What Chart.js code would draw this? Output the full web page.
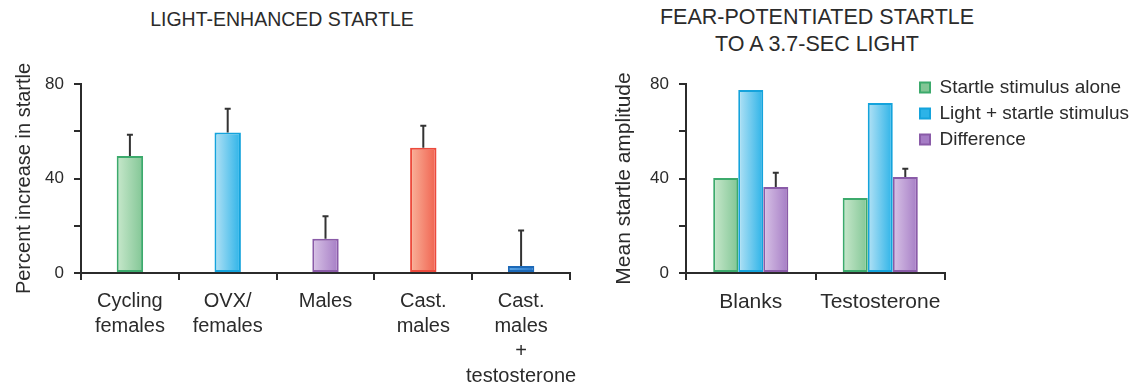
<!DOCTYPE html>
<html>
<head>
<meta charset="utf-8">
<script src="https://cdn.jsdelivr.net/npm/chart.js@4.4.1/dist/chart.umd.min.js"></script>
<style>
  body { margin: 0; width: 1143px; height: 392px; position: relative; overflow: hidden; background: #fff;
         font-family: "Liberation Sans", Arial, sans-serif; color: #2b2b2b; }
  canvas { position: absolute; top: 0; }
  .titulo { position: absolute; text-align: center; white-space: nowrap; }
  #t-izq { left: 82px; width: 400px; top: 7px; font-size: 19.5px; line-height: 24px; }
  #t-der { left: 617px; width: 400px; top: 4px; font-size: 21.5px; line-height: 27px; }
</style>
</head>
<body>
<div class="titulo" id="t-izq">LIGHT-ENHANCED STARTLE</div>
<div class="titulo" id="t-der">FEAR-POTENTIATED STARTLE<br>TO A 3.7-SEC LIGHT</div>
<canvas id="chart-izq" width="600" height="392" style="left:0"></canvas>
<canvas id="chart-der" width="543" height="392" style="left:600px"></canvas>
<script>
// valores leídos a ojo de la figura
const LEFT_GROUPS = [['Cycling', 'females'], ['OVX/', 'females'], ['Males'], ['Cast.', 'males'], ['Cast.', 'males', '+', 'testosterone']];
const LEFT_VALUES = [49.5, 59.5, 14.5, 53, 3];
const LEFT_ERRORS = [9, 10, 9.5, 9.3, 15];
const LEFT_SWATCHES = ['green', 'blue', 'purple', 'red', 'navy'];

const RIGHT_GROUPS = ['Blanks', 'Testosterone'];
const SERIES_NAMES = ['Startle stimulus alone', 'Light + startle stimulus', 'Difference'];
const ALONE = [40.2, 31.7];
const LIGHT = [77.5, 72];
const DIFFERENCE = [36.4, 40.6];
const DIFFERENCE_ERR = [6, 3.5];

const Y_LABELED = [0, 40, 80];

const INK = '#2b2b2b';
const SWATCH = {
  green:  { light: '#c8e8cc', dark: '#82c695', mid: '#a2d7b0', border: '#3caa6c' },
  blue:   { light: '#b4e2f5', dark: '#2cb3e8', mid: '#6cc8ee', border: '#14a3dc' },
  purple: { light: '#d8c3e6', dark: '#a57cc5', mid: '#bb9bd4', border: '#8a5ba8' },
  red:    { light: '#f9b39b', dark: '#f0614e', mid: '#f4866e', border: '#ec4a3c' },
  navy:   { light: '#5ea7e6', dark: '#2878ca', mid: '#3f8fd8', border: '#1c69b8' },
};

Chart.defaults.font.family = '"Liberation Sans", Arial, sans-serif';
Chart.defaults.color = INK;

// degradado horizontal dentro de cada barra (en la primera pasada aún no hay x)
function barGradient(pick) {
  return (ctx) => {
    const sw = SWATCH[pick(ctx)];
    const el = ctx.element;
    if (!el || !Number.isFinite(el.x) || !el.width) return sw.mid;
    const g = ctx.chart.ctx.createLinearGradient(el.x - el.width / 2, 0, el.x + el.width / 2, 0);
    g.addColorStop(0, sw.light);
    g.addColorStop(1, sw.dark);
    return g;
  };
}

const errorBars = {
  id: 'errorBars',
  afterDatasetsDraw(chart) {
    const { ctx } = chart;
    const y = chart.scales.y;
    chart.data.datasets.forEach((ds, di) => {
      if (!ds.errors) return;
      chart.getDatasetMeta(di).data.forEach((bar, i) => {
        const e = ds.errors[i];
        if (e == null) return;
        const top = y.getPixelForValue(ds.data[i] + e);
        ctx.save();
        ctx.strokeStyle = '#333';
        ctx.lineWidth = 2;
        ctx.beginPath();
        ctx.moveTo(bar.x, bar.y);
        ctx.lineTo(bar.x, top);
        ctx.moveTo(bar.x - 3, top);
        ctx.lineTo(bar.x + 3, top);
        ctx.stroke();
        ctx.restore();
      });
    });
  },
};

function yAxis(title, titleSize, titlePad, width) {
  return {
    min: 0,
    max: 80,
    ticks: { stepSize: 20, padding: 10, font: { size: 17 }, color: INK, callback: (v) => (Y_LABELED.includes(v) ? v : '') },
    grid: { drawOnChartArea: false, tickLength: 7, color: INK, lineWidth: 2 },
    border: { color: INK, width: 2 },
    title: { display: true, text: title, color: INK, font: { size: titleSize }, padding: { top: titlePad, bottom: 0 } },
    afterFit: (s) => { s.width = width; },
  };
}

function xAxis(fontSize) {
  return {
    ticks: { autoSkip: false, maxRotation: 0, minRotation: 0, padding: 9, color: INK, font: { size: fontSize, lineHeight: 1.25 } },
    grid: { drawOnChartArea: false, offset: true, tickLength: 7, color: INK, lineWidth: 2 },
    border: { color: INK, width: 2 },
    afterFit: (s) => { s.height = 119; },
  };
}

const izq = new Chart(document.getElementById('chart-izq'), {
  type: 'bar',
  data: {
    labels: LEFT_GROUPS,
    datasets: [{
      data: LEFT_VALUES,
      errors: LEFT_ERRORS,
      backgroundColor: barGradient((ctx) => LEFT_SWATCHES[ctx.dataIndex ?? 0]),
      borderColor: LEFT_SWATCHES.map((k) => SWATCH[k].border),
      borderWidth: 2,
      borderSkipped: false,
      categoryPercentage: 1,
      barPercentage: 0.27,
    }],
  },
  options: {
    responsive: false,
    animation: false,
    layout: { padding: { top: 84, right: 30, bottom: 0, left: 0 } },
    plugins: { legend: { display: false }, tooltip: { enabled: false } },
    scales: { x: xAxis(20), y: yAxis('Percent increase in startle', 20, 12, 81) },
  },
  plugins: [errorBars],
});

// la leyenda va encima del área del gráfico, arriba a la derecha
const legendSpot = {
  id: 'legendSpot',
  afterLayout(chart) {
    const lg = chart.legend;
    const w = lg.width;
    const h = lg.height;
    lg.left = 313;
    lg.top = 71;
    lg.right = lg.left + w;
    lg.bottom = lg.top + h;
  },
};

const SERIES_DATA = [ALONE, LIGHT, DIFFERENCE];
const SERIES_SWATCH = ['green', 'blue', 'purple'];

const der = new Chart(document.getElementById('chart-der'), {
  type: 'bar',
  data: {
    labels: RIGHT_GROUPS,
    datasets: SERIES_NAMES.map((name, i) => ({
      label: name,
      data: SERIES_DATA[i],
      errors: i === 2 ? DIFFERENCE_ERR : undefined,
      backgroundColor: barGradient((ctx) => SERIES_SWATCH[ctx.datasetIndex]),
      borderColor: SWATCH[SERIES_SWATCH[i]].border,
      borderWidth: 2,
      borderSkipped: false,
      categoryPercentage: 0.58,
      barPercentage: 1,
    })),
  },
  options: {
    responsive: false,
    animation: false,
    layout: { padding: { top: 84, right: 198, bottom: 0, left: 0 } },
    plugins: {
      tooltip: { enabled: false },
      legend: {
        position: 'chartArea',
        align: 'start',
        labels: { boxWidth: 10, boxHeight: 10, padding: 7, color: INK, font: { size: 19 } },
      },
    },
    scales: { x: xAxis(21), y: yAxis('Mean startle amplitude', 21, 12, 86) },
  },
  plugins: [errorBars, legendSpot],
});

// segunda pasada para que los degradados ya tengan la posición de cada barra
izq.update();
der.update();
</script>
</body>
</html>
